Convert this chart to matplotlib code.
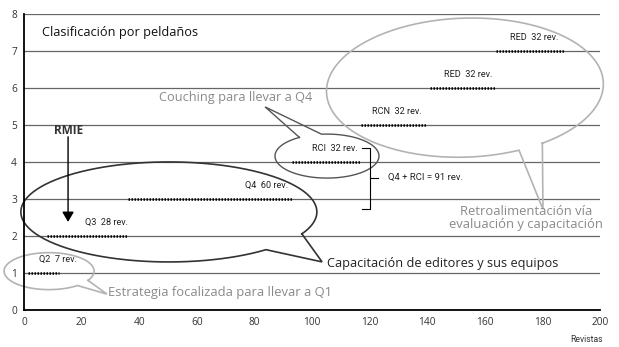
import numpy as np
import matplotlib
matplotlib.use("Agg")
import matplotlib.pyplot as plt

# === Data ===
groups = ["Q2", "Q3", "Q4", "RCI", "RCN", "RED", "RED"]
steps = [1, 2, 3, 4, 5, 6, 7]
x_start = [1.5, 8, 36, 93, 117, 141, 164]
x_end = [12, 36, 93, 117, 140, 164, 188]
n_rev = [7, 28, 60, 32, 32, 32, 32]

x_ticks = [0, 20, 40, 60, 80, 100, 120, 140, 160, 180, 200]
y_ticks = [0, 1, 2, 3, 4, 5, 6, 7, 8]

# label shift (data units) relative to segment end
label_dx = [6.5, 0, -1.5, -1, -2, -1.5, -2.5]

plt.rcParams['font.family'] = ['Open Sans', 'DejaVu Sans']
NARROW = ['Liberation Sans Narrow', 'Roboto', 'DejaVu Sans']

W, H = 619, 347
fig = plt.figure(figsize=(W / 100, H / 100), dpi=100)
L, R, T, B = 24, 600, 14, 310
ax = fig.add_axes([L / W, (H - B) / H, (R - L) / W, (B - T) / H])
ax.set_xlim(0, 200)
ax.set_ylim(0, 8)

# px per data unit, used to draw bubbles in screen-like proportions
SX = (R - L) / 200.0
SY = (B - T) / 8.0

for s in ['top', 'right']:
    ax.spines[s].set_visible(False)
for s in ['left', 'bottom']:
    ax.spines[s].set_color('black')
    ax.spines[s].set_linewidth(1.3)

ax.set_xticks(x_ticks)
ax.set_yticks(y_ticks)
ax.tick_params(length=0, labelsize=7.3, colors='#333333', pad=5)
ax.set_xlabel("Revistas", fontsize=6.2, color='#333333', family=NARROW)
ax.xaxis.set_label_coords(1.005, -0.085)
ax.xaxis.label.set_ha('right')

for yv in y_ticks[1:]:
    ax.axhline(yv, color='#666666', lw=0.9, zorder=1)

# dotted steps
for g, yv, x0, x1, n, dx in zip(groups, steps, x_start, x_end, n_rev, label_dx):
    ax.plot([x0, x1], [yv, yv], color='black', lw=1.8, ls=(0, (0.6, 0.6)),
            solid_capstyle='butt', dash_capstyle='butt', zorder=3)
    ax.text(x1 + dx, yv + 0.36, f"{g}  {n} rev.", fontsize=6.6, ha='right',
            va='center', color='#222222', family=NARROW, zorder=4)


def bubble(cx, cy, rw, rh, gap, tip, color, lw, rot=0.0):
    # cx, cy in data; rw, rh semi-axes in px; gap in degrees; tip in data
    t = np.radians(np.linspace(gap[1], gap[0] + 360, 300))
    u = rw * np.cos(t)
    v = rh * np.sin(t)
    a = np.radians(rot)
    ur = u * np.cos(a) - v * np.sin(a)
    vr = u * np.sin(a) + v * np.cos(a)
    xs = list(cx + ur / SX) + [tip[0], cx + ur[0] / SX]
    ys = list(cy + vr / SY) + [tip[1], cy + vr[0] / SY]
    ax.plot(xs, ys, color=color, lw=lw, zorder=2, clip_on=False,
            solid_joinstyle='miter')


GRAY = '#b3b3b3'
GRAY_TXT = '#8a8a8a'

bubble(153.1, 6.01, 138.5, 69.5, (-68, -57), (180.2, 2.72), GRAY, 1.2, rot=2)
bubble(105.2, 4.16, 52, 22, (96, 122), (83.7, 5.49), '#555555', 1.0)
bubble(50.3, 2.65, 148, 50, (-49, -26), (103.5, 1.30), '#333333', 1.2)
bubble(8.7, 1.05, 45, 18.5, (-51, -30), (28.8, 0.43), GRAY, 1.2)

ax.text(6.2, 7.5, "Clasificación por peldaños", fontsize=9.2, color='#111111',
        va='center', ha='left')
ax.text(73.6, 5.74, "Couching para llevar a Q4", fontsize=9.2, color=GRAY_TXT,
        va='center', ha='center')
ax.text(105.2, 1.27, "Capacitación de editores y sus equipos", fontsize=9.2,
        color='#222222', va='center', ha='left')
ax.text(29.2, 0.46, "Estrategia focalizada para llevar a Q1", fontsize=9.4,
        color=GRAY_TXT, va='center', ha='left')
ax.text(174.3, 2.49, "Retroalimentación vía\nevaluación y capacitación",
        fontsize=9.4, color=GRAY_TXT, va='center', ha='center', linespacing=1.0)

# RMIE arrow
ax.text(15.3, 4.86, "RMIE", fontsize=8.5, fontweight='bold', color='#333333',
        ha='center', va='center')
ax.annotate("", xy=(15.3, 2.38), xytext=(15.3, 4.68),
            arrowprops=dict(arrowstyle='-|>,head_length=0.6,head_width=0.35',
                            color='black', lw=1.0, shrinkA=0, shrinkB=0),
            zorder=5)

# bracket Q4 + RCI
bx, btop, bbot, bmid = 120.1, 4.38, 2.73, 3.57
ax.plot([117.4, bx, bx, 117.4], [btop, btop, bbot, bbot], color='black',
        lw=0.8, zorder=4)
ax.plot([bx, 122.9], [bmid, bmid], color='black', lw=0.8, zorder=4)
ax.text(126.4, bmid, "Q4 + RCI = 91 rev.", fontsize=6.8, family=NARROW,
        color='#222222', va='center', ha='left')

fig.savefig("out.png", dpi=100)
